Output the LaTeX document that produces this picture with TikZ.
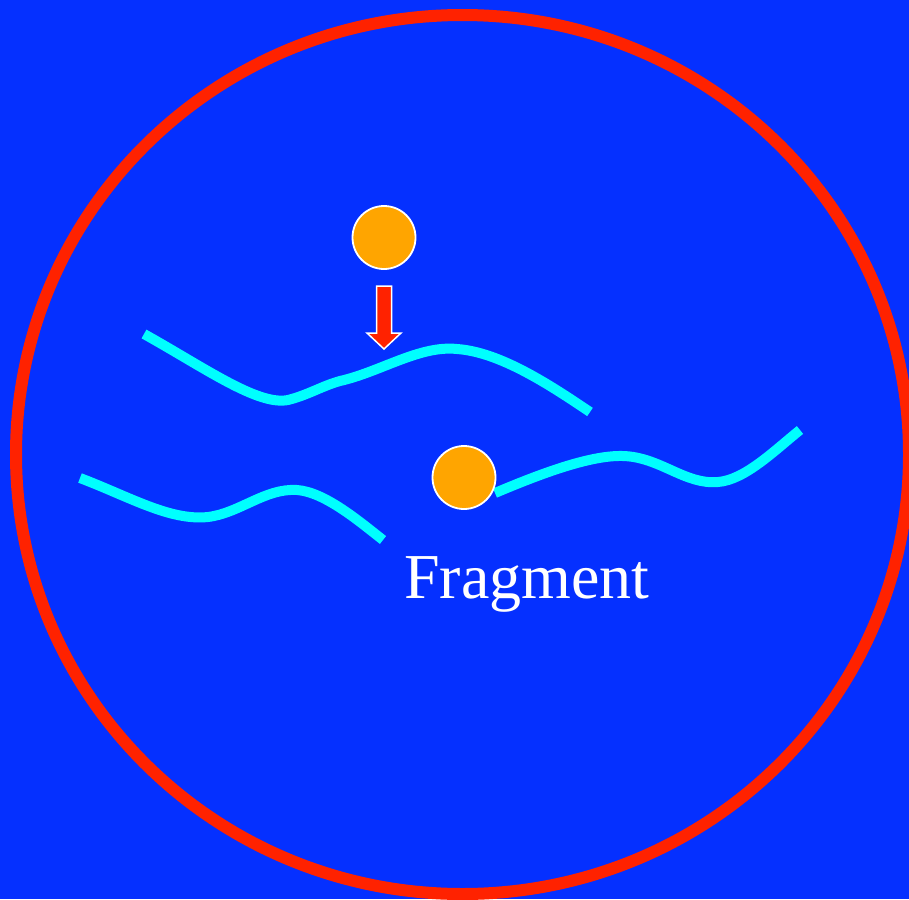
\documentclass[tikz,border=0pt]{standalone}
\usepackage{fontspec}
\setmainfont{Liberation Serif}
\definecolor{bgblue}{RGB}{5,48,255}
\definecolor{ringred}{RGB}{255,34,0}
\definecolor{strand}{RGB}{0,255,255}
\definecolor{ball}{RGB}{255,165,0}
\tikzset{
  strandline/.style={draw=strand, line width=10pt},
  ballnode/.style={circle, fill=ball, draw=white, line width=1.8pt, minimum size=63pt, inner sep=0pt},
  arrowshape/.style={fill=ringred, draw=white, line width=1.5pt, line join=miter},
  label/.style={text=white, inner sep=0pt, font=\fontsize{64}{70}\selectfont}
}
\begin{document}
\begin{tikzpicture}[x=1pt,y=-1pt]
\fill[bgblue] (0,0) rectangle (909,899);
\useasboundingbox (0,0) rectangle (909,899);
\clip (0,0) rectangle (909,899);
% ring
\draw[ringred, line width=12pt] (462.5,454.5) ellipse [x radius=446.5, y radius=439.5];
% strands
\coordinate (s1a) at (144,334);
\coordinate (s1b) at (288,400);
\coordinate (s1c) at (340,381);
\coordinate (s1d) at (457,349);
\coordinate (s1e) at (590,412);
\draw[strandline] (s1a) .. controls (205,368) and (258,406) .. (s1b)
  .. controls (308,395) and (322,386) .. (s1c)
  .. controls (380,372) and (420,345) .. (s1d)
  .. controls (500,352) and (550,385) .. (s1e);
\coordinate (s2a) at (80,478);
\coordinate (s2b) at (208,517);
\coordinate (s2c) at (297,490);
\coordinate (s2d) at (383,540);
\draw[strandline] (s2a) .. controls (130,497) and (170,521) .. (s2b)
  .. controls (240,513) and (265,488) .. (s2c)
  .. controls (325,492) and (360,522) .. (s2d);
\coordinate (s3a) at (495,493);
\coordinate (s3b) at (623,456);
\coordinate (s3c) at (718,482);
\coordinate (s3d) at (800,430);
\draw[strandline] (s3a) .. controls (540,474) and (590,455) .. (s3b)
  .. controls (660,457) and (685,485) .. (s3c)
  .. controls (745,480) and (775,450) .. (s3d);
% balls
\node[ballnode] (b1) at (384,237.5) {};
\node[ballnode] (b2) at (464,477.5) {};
% arrow
\coordinate (tip) at (384,349);
\draw[arrowshape] (376.5,286) -- (391.5,286) -- (391.5,333) -- (401,333) -- (tip) -- (367,333) -- (376.5,333) -- cycle;
% label
\node[label, anchor=base west] (lab) at (404,598) {Fragment};
\end{tikzpicture}
\end{document}
